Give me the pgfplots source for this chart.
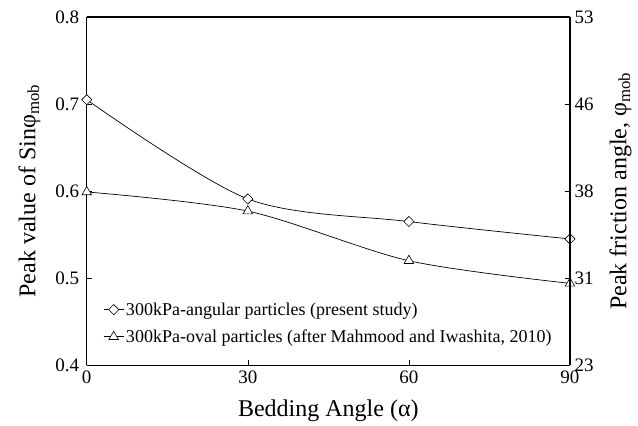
\documentclass[border=0pt]{standalone}
\usepackage{pgfplots}
\pgfplotsset{compat=1.18}
\usepackage{fontspec}
\setmainfont{Liberation Serif}
\begin{document}
\begin{tikzpicture}
\begin{axis}[
  scale only axis, width=483pt, height=348pt,
  xmin=0, xmax=90, ymin=0.4, ymax=0.8,
  xtick={0,30,60,90}, ytick={0.4,0.5,0.6,0.7,0.8},
  yticklabels={0.4,0.5,0.6,0.7,0.8},
  tick align=inside, major tick length=5pt,
  axis y line*=left, axis x line*=bottom,
  axis line style={line width=1.2pt},
  tick style={line width=0.6pt, black},
  every tick label/.append style={font=\fontsize{19}{22}\selectfont},
  yticklabel style={xshift=-4pt},
  xticklabel style={yshift=-2pt},
  /pgf/number format/assume math mode=true,
  label style={font=\fontsize{24}{27}\selectfont},
  xlabel={Bedding Angle (α)},
  ylabel={Peak value of Sinφ\textsubscript{mob}},
  xlabel style={yshift=-9pt},
  ylabel style={yshift=8pt},
  legend style={draw=none, fill=none, at={(rel axis cs:0.034,0.055)}, anchor=south west,
    font=\fontsize{18}{20}\selectfont, row sep=9pt, inner sep=0pt},
  legend image code/.code={\draw[mark repeat=2,mark phase=2,#1] plot coordinates {(0cm,0cm) (0.35cm,0cm) (0.7cm,0cm)};},
  legend cell align=left,
  clip=false,
]
\coordinate (bl) at (rel axis cs:0,0);
\coordinate (tr) at (rel axis cs:1,1);
\addplot[black, line width=0.7pt, smooth, mark=square*, mark size=3.6pt,
  mark options={fill=white, rotate=45, line width=0.6pt}]
  coordinates {(0,0.705) (30,0.591) (60,0.565) (90,0.545)};
\addlegendentry{300kPa-angular particles (present study)}
\addplot[black, line width=0.7pt, smooth, mark=triangle*, mark size=5.5pt,
  mark options={fill=white, line width=0.6pt}]
  coordinates {(0,0.599) (30,0.577) (60,0.520) (90,0.494)};
\addlegendentry{300kPa-oval particles (after Mahmood and Iwashita, 2010)}
\end{axis}
\begin{axis}[
  scale only axis, width=483pt, height=348pt,
  xmin=0, xmax=90, ymin=0.4, ymax=0.8,
  axis y line*=right, axis x line=none,
  axis line style={line width=1.2pt},
  tick align=inside, major tick length=5pt,
  tick style={line width=0.6pt, black},
  ytick={0.4,0.5,0.6,0.7,0.8},
  yticklabels={23,31,38,46,53},
  every tick label/.append style={font=\fontsize{19}{22}\selectfont},
  yticklabel style={xshift=1pt},
  /pgf/number format/assume math mode=true,
  ylabel={Peak friction angle, φ\textsubscript{mob}},
  label style={font=\fontsize{24}{27}\selectfont},
  ylabel style={yshift=-9pt},
]
\end{axis}
\draw[line width=1.2pt] (bl |- tr) -- (tr);
\pgfresetboundingbox
\path ([shift={(-86.7pt,-60.3pt)}]bl) rectangle ([shift={(68pt,17pt)}]tr);
\end{tikzpicture}
\end{document}
